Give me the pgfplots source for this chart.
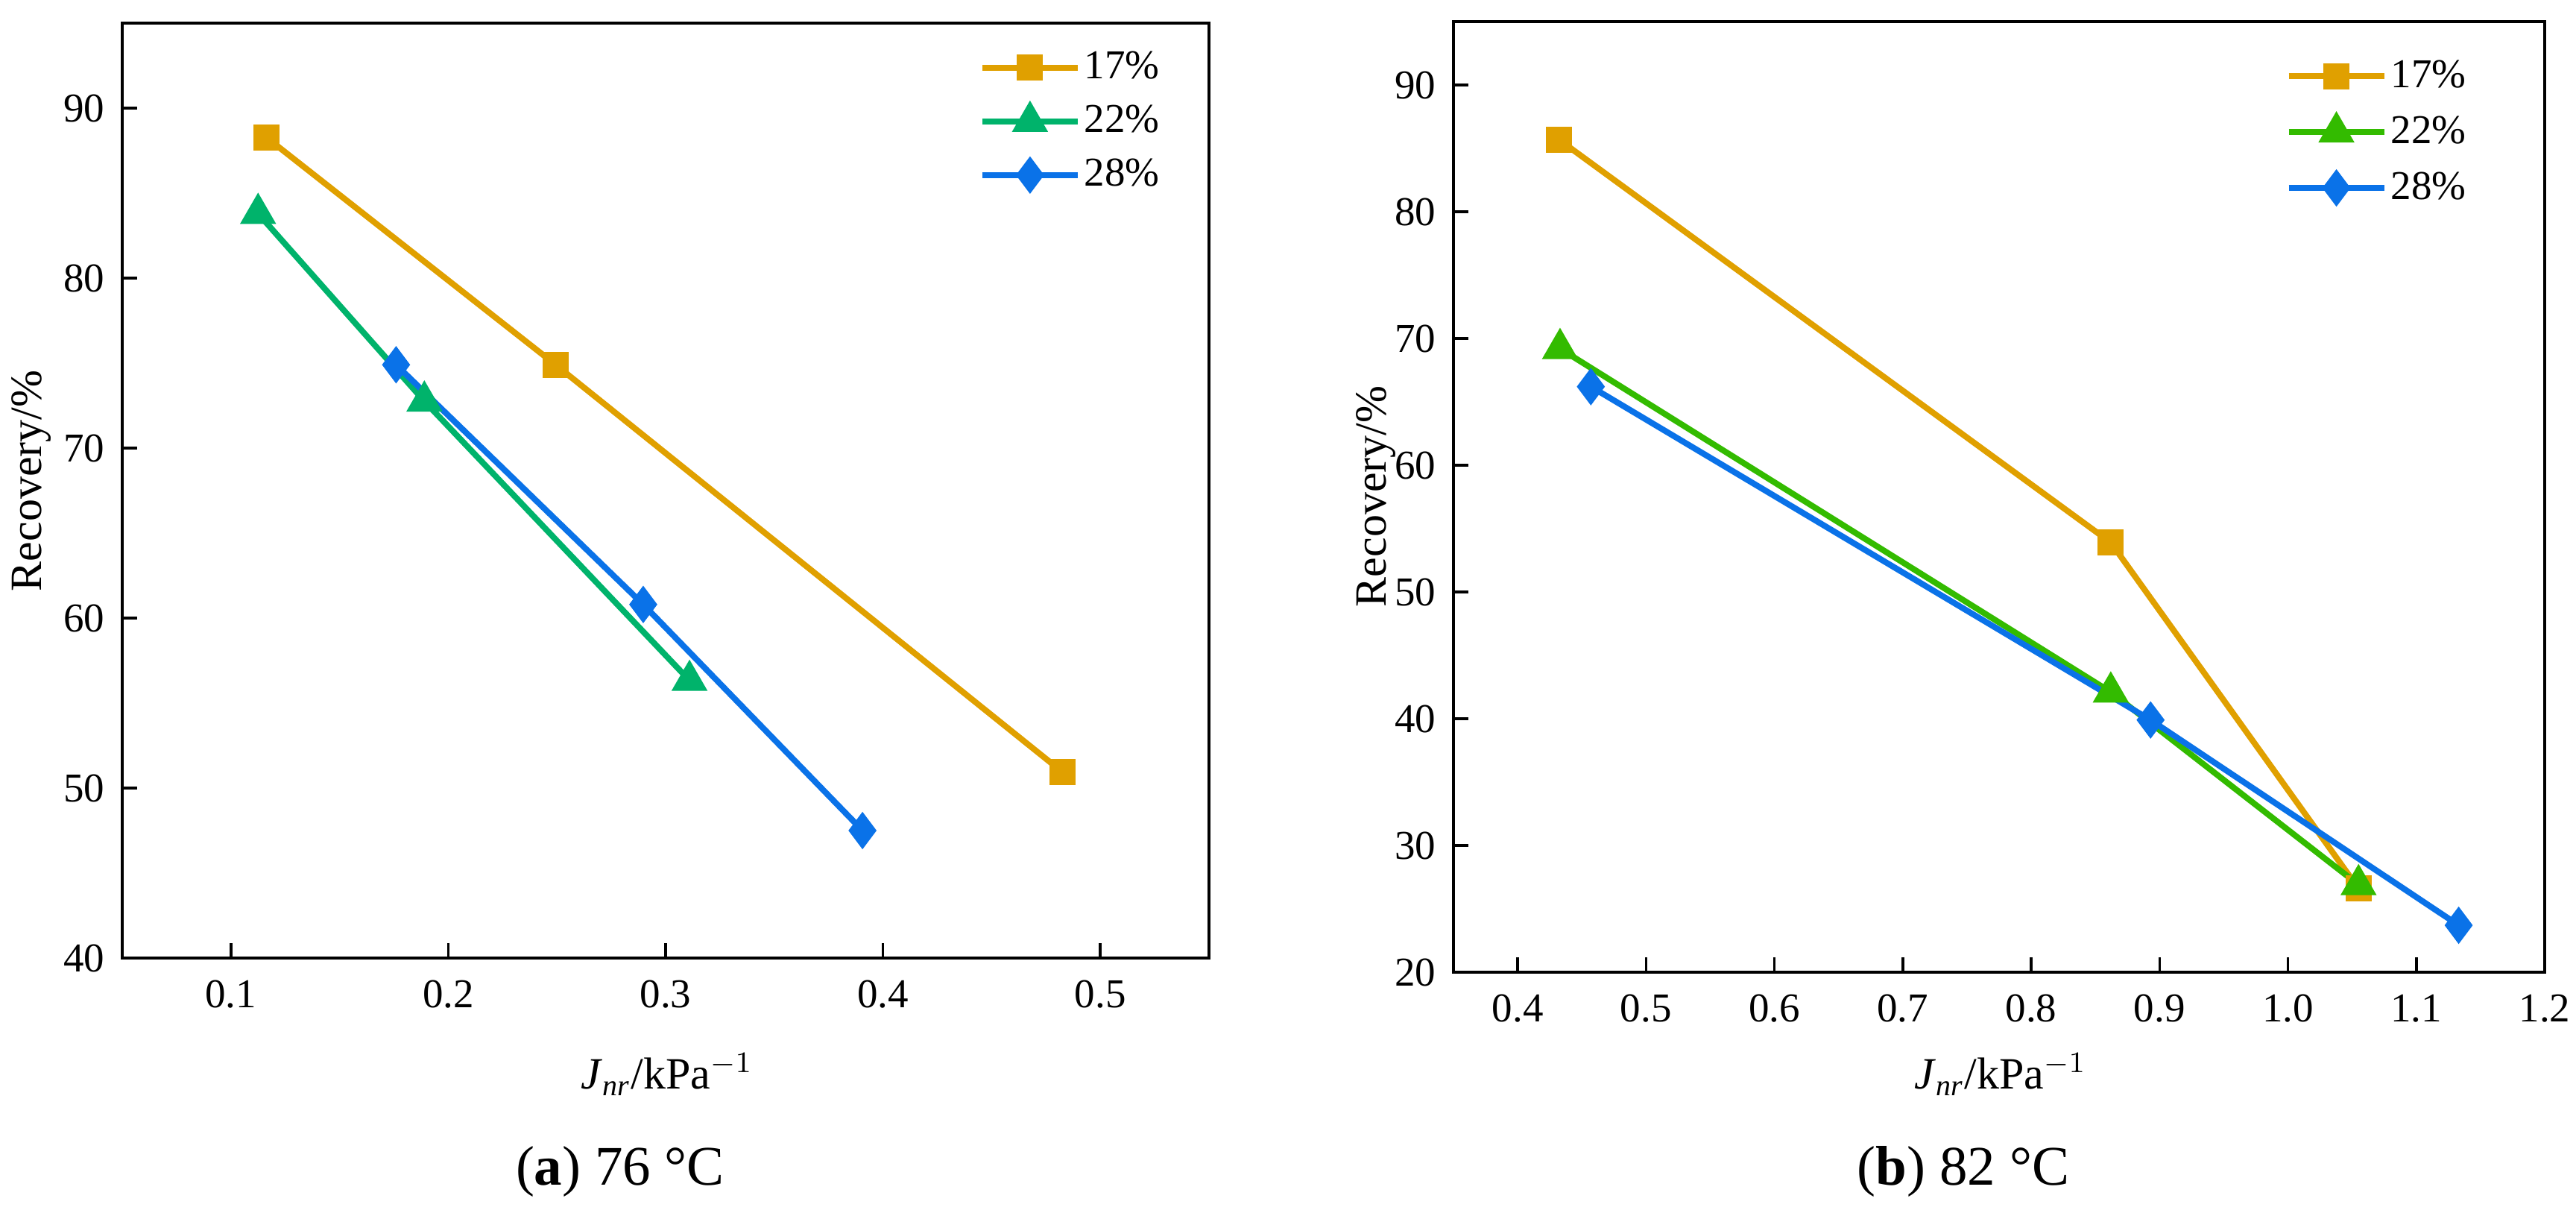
\documentclass[border=0pt]{standalone}
\usepackage{fontspec}
\setmainfont{Liberation Serif}
\usepackage{pgfplots}
\pgfplotsset{compat=1.18}

\definecolor{cOrange}{HTML}{E0A000}
\definecolor{cGreenA}{HTML}{00B36B}
\definecolor{cGreenB}{HTML}{33BB00}
\definecolor{cBlue}{HTML}{0A72E8}

\pgfplotsset{
  jnr/.style={
    scale only axis,
    anchor=south west,
    axis line style={line width=0.7pt},
    tick style={line width=0.7pt, black},
    tick align=inside,
    major tick length=4pt,
    xtick pos=bottom, ytick pos=left,
    ticklabel style={font=\fontsize{11}{13}\selectfont},
    /pgf/number format/assume math mode=true,
    xticklabel style={/pgf/number format/.cd, fixed, fixed zerofill, precision=1},
    xticklabel shift=2.5pt,
    yticklabel shift=1.2pt,
    legend cell align=left,
    legend style={draw=none, fill=none, inner sep=0pt,
      font=\fontsize{11}{13}\selectfont,
      nodes={inner sep=1pt, text height=8pt, text depth=2pt}},
    legend image code/.code={
      \draw[mark repeat=2,mark phase=2]
        plot coordinates {(0pt,0pt) (12.8pt,0pt) (25.6pt,0pt)};},
    every axis plot/.append style={line width=1.6pt},
  },
  sq/.style={mark=square*, mark size=2.7pt, mark options={solid}},
  tri/.style={mark=triangle*, mark size=4pt, mark options={solid}},
  dia/.style={mark=diamond*, mark size=3.7pt, mark options={solid}},
}

\newcommand{\xlab}{\textit{J}\textsubscript{\textit{nr}}/kPa$^{-1}$}

\begin{document}
\begin{tikzpicture}
\path[use as bounding box] (-32.8pt,-69.2pt) rectangle (658.4pt,257pt);

% (a) 76 C
\begin{axis}[jnr,
    at={(0pt,0pt)},
    width=291.6pt, height=250.8pt,
    xmin=0.05, xmax=0.55, ymin=40, ymax=95,
    xtick={0.1,0.2,0.3,0.4,0.5},
    ytick={40,50,60,70,80,90},
    legend style={at={(0.788,0.977)}, anchor=north west, row sep=2.4pt},
  ]
\addplot[cOrange, sq] coordinates {(0.1164,88.27) (0.2494,74.9) (0.4825,50.95)};
\addplot[cGreenA, tri] coordinates {(0.1125,83.8) (0.189,72.76) (0.311,56.33)};
\addplot[cBlue, dia] coordinates {(0.176,74.9) (0.2897,60.8) (0.3906,47.5)};
\legend{17\%,22\%,28\%}
\end{axis}

% (b) 82 C
\begin{axis}[jnr,
    at={(357.2pt,-3.8pt)},
    width=292.8pt, height=255pt,
    xmin=0.35, xmax=1.2, ymin=20, ymax=95,
    xtick={0.4,0.5,0.6,0.7,0.8,0.9,1.0,1.1,1.2},
    ytick={20,30,40,50,60,70,80,90},
    legend style={at={(0.762,0.967)}, anchor=north west, row sep=3pt},
  ]
\addplot[cOrange, sq] coordinates {(0.432,85.7) (0.862,53.9) (1.055,26.6)};
\addplot[cGreenB, tri] coordinates {(0.433,69.2) (0.862,42.1) (1.055,26.9)};
\addplot[cBlue, dia] coordinates {(0.457,66.2) (0.893,39.9) (1.133,23.7)};
\legend{17\%,22\%,28\%}
\end{axis}

\node[font=\fontsize{12}{14}\selectfont] at (146.2pt,-31.2pt) {\xlab};
\node[font=\fontsize{12}{14}\selectfont, rotate=90] at (-24.4pt,128pt) {Recovery/\%};
\node[font=\fontsize{15}{18}\selectfont] at (133.6pt,-57.2pt) {(\textbf{a}) 76 °C};

\node[font=\fontsize{12}{14}\selectfont] at (504pt,-31.2pt) {\xlab};
\node[font=\fontsize{12}{14}\selectfont, rotate=90] at (336.4pt,123.8pt) {Recovery/\%};
\node[font=\fontsize{15}{18}\selectfont] at (494pt,-57.2pt) {(\textbf{b}) 82 °C};
\end{tikzpicture}
\end{document}
